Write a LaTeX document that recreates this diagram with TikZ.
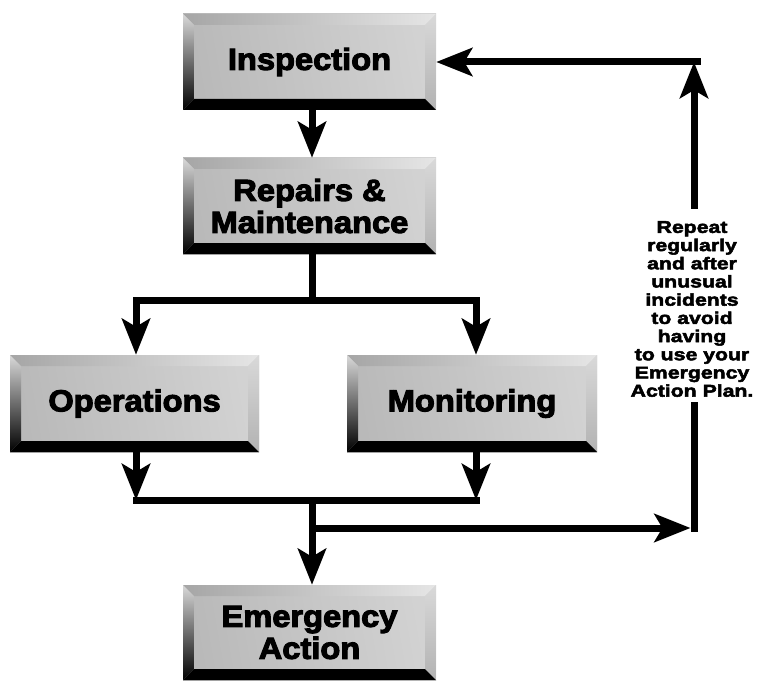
\documentclass[tikz,border=0pt]{standalone}
\usepackage{fontspec}
\setmainfont{Liberation Sans}
\newfontfamily\boxfont{Liberation Sans Bold}[FakeBold=3.5, FakeStretch=1.07]
\newfontfamily\notefont{Liberation Sans Bold}[FakeBold=3, FakeStretch=1.25]
\usetikzlibrary{arrows.meta,calc}
\tikzset{
  bevbox/.style={minimum width=253pt, minimum height=96pt, inner sep=0pt, align=center,
    font=\fontsize{30.5}{32}\boxfont,
    path picture={
      \coordinate (bsw) at (path picture bounding box.south west);
      \coordinate (bne) at (path picture bounding box.north east);
      \coordinate (bnw) at (path picture bounding box.north west);
      \coordinate (bse) at (path picture bounding box.south east);
      \shade[left color=gray!55, middle color=gray!8, right color=gray!35, shading angle=100]
        (bsw) rectangle (bne);
      \shade[left color=gray!70, right color=gray!20]
        (bnw) -- (bne) -- ++(-11pt,-11pt) -- ($(bnw)+(11pt,-11pt)$) -- cycle;
      \shade[top color=gray!30, bottom color=black]
        (bsw) -- (bnw) -- ++(11pt,-11pt) -- ($(bsw)+(11pt,11pt)$) -- cycle;
      \shade[top color=gray!30, bottom color=gray!60]
        (bse) -- (bne) -- ++(-11pt,-11pt) -- ($(bse)+(-11pt,11pt)$) -- cycle;
      \fill[black]
        (bsw) -- (bse) -- ++(-11pt,11pt) -- ($(bsw)+(11pt,11pt)$) -- cycle;
    }},
  note/.style={align=center, inner sep=0pt, font=\fontsize{17}{18.2}\notefont},
  conn/.style={line width=7pt, line cap=rect},
  arr/.style={conn, -{Stealth[length=36pt, width=28pt, inset=8pt]}},
}
\begin{document}
\begin{tikzpicture}[x=1pt, y=-1pt]
\useasboundingbox (0,0) rectangle (758,682);
\fill[white] (0,0) rectangle (758,682);

\node[bevbox] (insp) at (309.5,62) {Inspection};
\node[bevbox] (rep) at (309.5,206) {Repairs \&\\Maintenance};
\node[bevbox, minimum width=249pt, minimum height=97pt] (ops) at (134.5,403.5) {Operations};
\node[bevbox, minimum width=250pt, minimum height=97pt] (mon) at (472,403.5) {Monitoring};
\node[bevbox, minimum height=95pt] (emer) at (309.5,632.5) {Emergency\\Action};
\node[note] (note) at (692,309) {Repeat\\regularly\\and after\\unusual\\incidents\\to avoid\\having\\to use your\\Emergency\\Action Plan.};

\coordinate (s) at (312,300);
\coordinate (sl) at (136,300);
\coordinate (sr) at (476,300);
\coordinate (jl) at (136,500);
\coordinate (jr) at (476,500);
\coordinate (jm) at (312,500);
\coordinate (jb) at (312,528);
\coordinate (tr) at (694,62);
\coordinate (br) at (694,528);
\coordinate (ntop) at (694,205);
\coordinate (nbot) at (694,405);

\draw[arr] (s |- insp.south) -- (s |- rep.north);
\draw[conn] (s |- rep.south) -- (s);
\draw[conn] (sl) -- (sr);
\draw[arr] (sl) -- (sl |- ops.north);
\draw[arr] (sr) -- (sr |- mon.north);
\draw[arr] (jl |- ops.south) -- (jl);
\draw[arr] (jr |- mon.south) -- (jr);
\draw[conn] (jl) -- (jr);
\draw[arr] (jm) -- (jm |- emer.north);
\draw[conn] (nbot) -- (br);
\draw[arr] (jb) -- ([xshift=-3.5pt]br);
\draw[arr] (ntop) -- (tr);
\draw[arr] ([xshift=3.5pt]tr) -- (insp.east);
\end{tikzpicture}
\end{document}
